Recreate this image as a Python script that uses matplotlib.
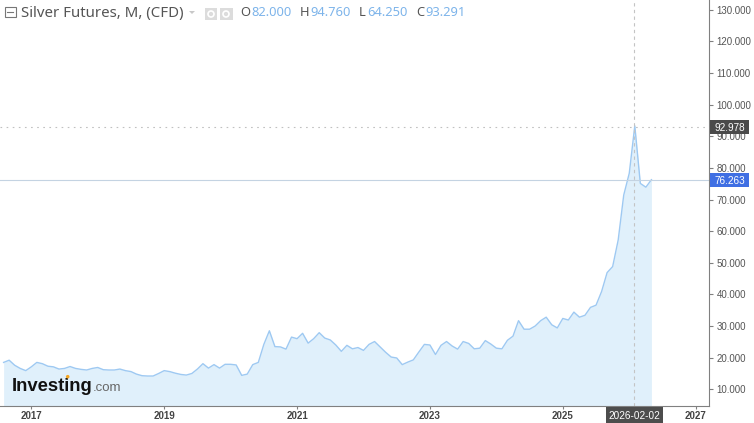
import numpy as np
import pandas as pd
import matplotlib
matplotlib.use('Agg')
import matplotlib.pyplot as plt
from matplotlib.patches import Rectangle, Ellipse

W = 754
H = 423

# monthly closes, 2016-08 to 2026-05
months = pd.date_range('2016-08-01', '2026-05-01', freq='MS')
closes_2016 = [18.5, 19.2, 17.6, 16.6, 15.9]
closes_2017 = [17.1, 18.5, 18.1, 17.3, 17.1, 16.4, 16.6, 17.2, 16.6, 16.3, 16.1, 16.6]
closes_2018 = [16.9, 16.2, 16.1, 16.1, 16.4, 15.9, 15.6, 14.8, 14.3, 14.2, 14.2, 15.0]
closes_2019 = [15.9, 15.6, 15.1, 14.7, 14.5, 15.0, 16.4, 18.1, 16.7, 17.8, 16.7, 17.9]
closes_2020 = [17.9, 17.7, 14.4, 14.8, 17.8, 18.5, 24.2, 28.5, 23.5, 23.4, 22.7, 26.5]
closes_2021 = [26.0, 27.7, 24.6, 26.0, 27.9, 26.2, 25.6, 24.0, 22.0, 23.9, 22.8, 23.2]
closes_2022 = [22.3, 24.2, 25.1, 23.4, 21.7, 20.2, 19.9, 17.8, 18.6, 19.3, 21.8, 24.2]
closes_2023 = [24.0, 21.0, 23.9, 25.1, 23.7, 22.7, 25.1, 24.5, 22.8, 23.0, 25.4, 24.3]
closes_2024 = [23.0, 22.8, 25.5, 26.8, 31.7, 29.0, 29.0, 30.0, 31.7, 32.8, 30.4, 29.4]
closes_2025 = [32.4, 31.9, 34.4, 32.8, 33.4, 35.9, 36.6, 40.9, 46.9, 48.8, 57.2, 71.4]
closes_2026 = [78.3, 93.291, 75.1, 73.9, 76.263]
closes = (closes_2016 + closes_2017 + closes_2018 + closes_2019 + closes_2020 + closes_2021
          + closes_2022 + closes_2023 + closes_2024 + closes_2025 + closes_2026)

price_ticks = [10, 20, 30, 40, 50, 60, 70, 80, 90, 100, 110, 120, 130]
year_ticks = [2017, 2019, 2021, 2023, 2025, 2027]
cursor_price = 92.978
cursor_date = '2026-02-02'
last_price = 76.263

title = 'Silver Futures, M, (CFD)'
ohlc = [('O', '82.000'), ('H', '94.760'), ('L', '64.250'), ('C', '93.291')]

plt.rcParams['font.family'] = ['Liberation Sans', 'DejaVu Sans']

fig = plt.figure(figsize=(W / 100, H / 100), dpi=100)
ax = fig.add_axes([0, 1 - 406 / H, 709.3 / W, 406 / H])

# the chart is bar based, so x is the month number and not a real date
x = np.arange(len(closes))
px_month = 66.44 / 12
ax.set_xlim(5 - 31.3 / px_month, 5 + (709.3 - 31.3) / px_month)
ax.set_ylim(4.72, 133.08)

ax.fill_between(x, closes, 0, color='#e0f0fb', lw=0)
ax.plot(x, closes, color='#9ec9f2', lw=1)

ax.axhline(last_price, color='#c4d3e2', lw=0.8)
ax.axhline(cursor_price, color='#c0c0c0', lw=0.8, ls=(0, (1.5, 4)))
cursor_x = list(months.strftime('%Y-%m')).index(cursor_date[:7])
ax.axvline(cursor_x - 0.1, color='#c4c4c4', lw=0.8, ls=(0, (3, 3)))

ax.spines[['left', 'top']].set_visible(False)
ax.spines[['right', 'bottom']].set_color('#808080')
ax.yaxis.tick_right()
ax.set_yticks(price_ticks)
ax.set_yticklabels(['%.3f' % p for p in price_ticks], fontsize=7, color='#555555')
ax.tick_params(axis='y', length=3, width=0.8, color='#808080', pad=2.2)

xt = [(y - 2016) * 12 - 7 for y in year_ticks]
ax.set_xticks(xt)
ax.set_xticklabels(year_ticks, fontsize=7, color='#444444', fontweight='bold')
ax.tick_params(axis='x', length=2.5, width=0.8, color='#808080', pad=1)


def tag(x0, y0, x1, y1, text, color, dx=0):
    # pixel box with a white label, drawn over the axis
    fig.add_artist(Rectangle((x0 / W, 1 - y1 / H), (x1 - x0) / W, (y1 - y0) / H,
                             transform=fig.transFigure, color=color, lw=0, zorder=5))
    fig.text(((x0 + x1) / 2 + dx) / W, 1 - (y0 + y1) / 2 / H, text, color='white', fontsize=7.2,
             ha='center', va='center_baseline', zorder=6)


tag(709.5, 120.5, 749, 134, '%.3f' % cursor_price, '#4a4a4a', dx=1)
tag(709.5, 173, 749, 187.5, '%.3f' % last_price, '#3f6fe3', dx=1)
tag(605.5, 407, 662.5, 423, cursor_date, '#4d4d4d')

# header
fig.add_artist(Rectangle((4.5 / W, 1 - 17.5 / H), 11 / W, 10.5 / H, transform=fig.transFigure,
                         fill=False, ec='#777777', lw=0.8))
fig.add_artist(plt.Line2D([7 / W, 13 / W], [1 - 12.5 / H, 1 - 12.5 / H], color='#777777', lw=0.8))
fig.text(21 / W, 1 - 13 / H, title, family='Noto Sans', fontsize=10.8, color='#555555', va='center')
fig.add_artist(plt.Polygon([[189 / W, 1 - 11 / H], [195 / W, 1 - 11 / H], [192 / W, 1 - 14 / H]],
                           transform=fig.transFigure, color='#c8c8c8', lw=0))
for x0 in [204.5, 219.5]:
    fig.add_artist(Rectangle((x0 / W, 1 - 20 / H), 13 / W, 12 / H, transform=fig.transFigure,
                             color='#dcdcdc', lw=0))
    fig.add_artist(Ellipse(((x0 + 6.5) / W, 1 - 14 / H), 6 / W, 6 / H, transform=fig.transFigure,
                           fill=False, ec='white', lw=1.2))

for (letter, value), x0, x1 in zip(ohlc, [240, 300, 359, 416], [251, 310.7, 367.3, 425.3]):
    fig.text(x0 / W, 1 - 13 / H, letter, family='Noto Sans', fontsize=9.3, color='#555555', va='center')
    fig.text(x1 / W, 1 - 13 / H, value, family='Noto Sans', fontsize=9.3, color='#7db4ea', va='center')

# logo
fig.text(11.5 / W, 1 - 390.7 / H, 'Investing', fontsize=13.3, fontweight='bold', color='#111111', va='baseline')
fig.text(92.5 / W, 1 - 390.7 / H, '.com', fontsize=9.5, color='#666666', va='baseline')
fig.add_artist(Ellipse((67.7 / W, 1 - 376.7 / H), 3.6 / W, 3.6 / H, transform=fig.transFigure,
                       color='#f5a623', lw=0, zorder=6))

fig.savefig('out.png', dpi=100)
